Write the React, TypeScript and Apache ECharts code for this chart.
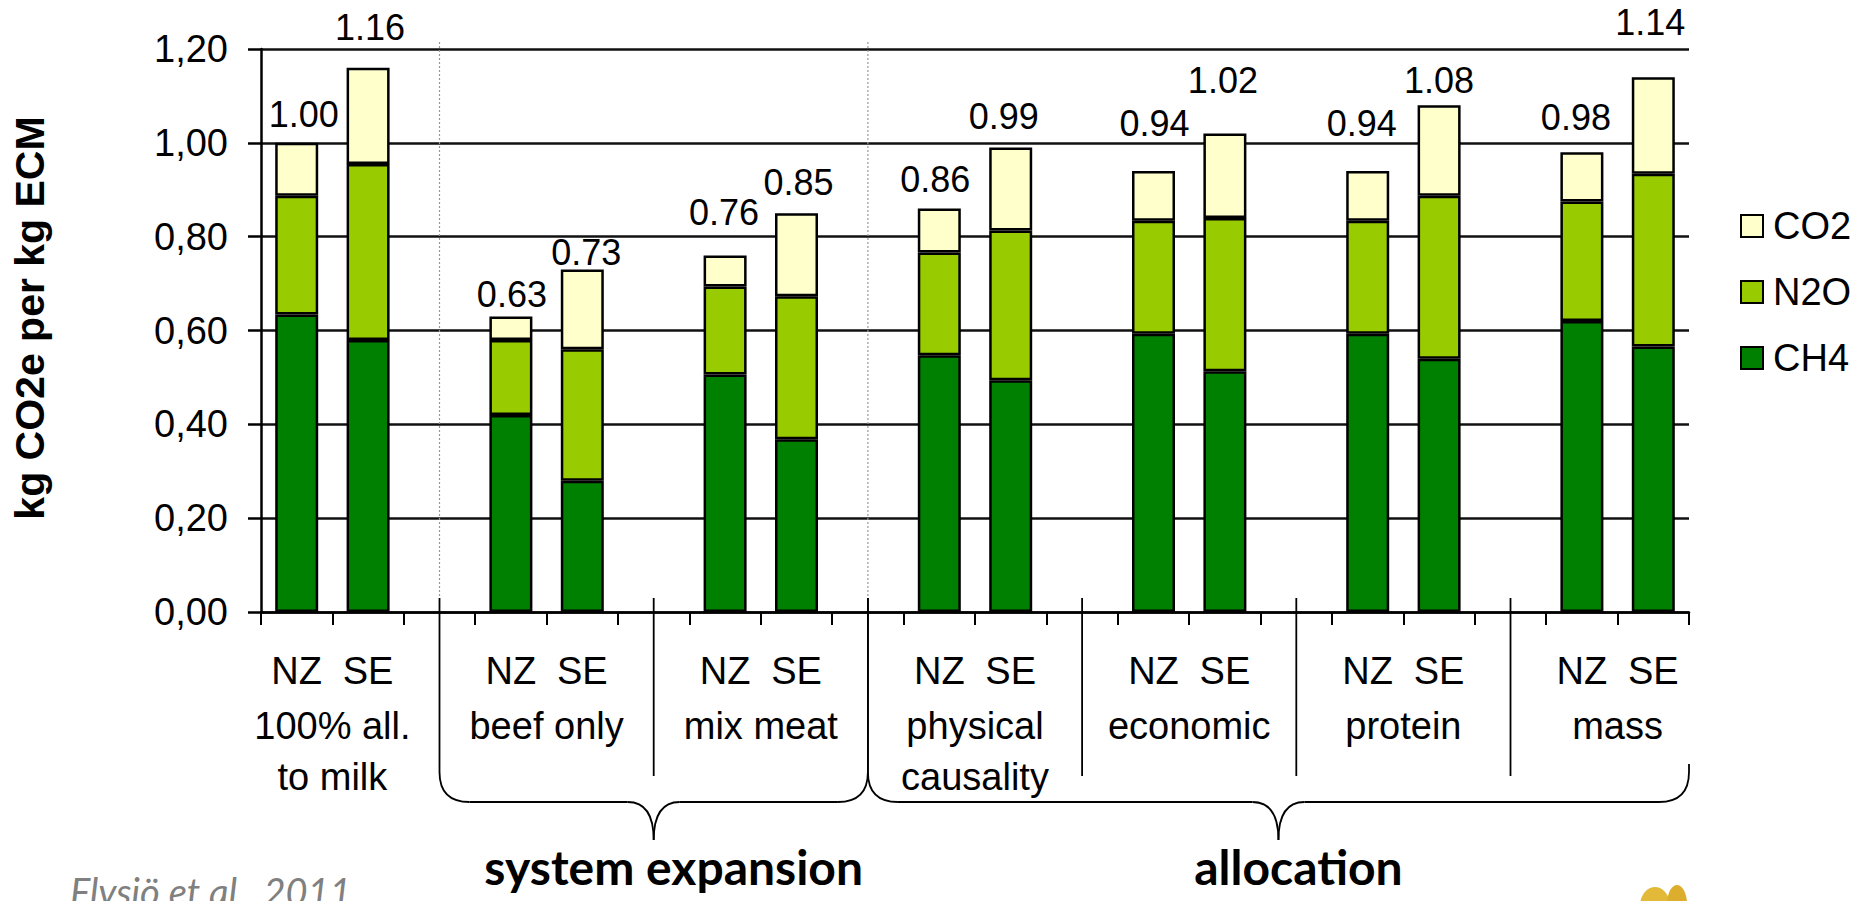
import React, { useEffect, useRef } from 'react';
import * as echarts from 'echarts';

// Carbon footprint of milk, NZ vs SE, per method of handling co-products
const groups = [
  '100% all.\nto milk',
  'beef only',
  'mix meat',
  'physical\ncausality',
  'economic',
  'protein',
  'mass',
];
const countries = ['NZ', 'SE'];

// kg CO2e per kg ECM, one entry per bar: NZ, SE for each group in turn
const ch4 = [0.634, 0.58, 0.42, 0.28, 0.506, 0.368, 0.547, 0.494, 0.593, 0.513, 0.593, 0.54, 0.62, 0.566];
const n2o = [0.253, 0.375, 0.16, 0.28, 0.188, 0.305, 0.219, 0.319, 0.241, 0.327, 0.241, 0.347, 0.255, 0.368];
const co2 = [0.113, 0.205, 0.05, 0.17, 0.066, 0.177, 0.094, 0.177, 0.106, 0.18, 0.106, 0.193, 0.105, 0.206];

const yTicks = [0, 0.2, 0.4, 0.6, 0.8, 1.0, 1.2];

// brackets grouping the methods (group index ranges)
const brackets = [
  { text: 'system expansion', from: 1, to: 2 },
  { text: 'allocation', from: 3, to: 6 },
];
const citation = 'Flysjö et al., 2011';

const FONT = "'Liberation Sans', Arial, sans-serif";
const COLORS = { CH4: '#008000', N2O: '#99CC00', CO2: '#FFFFCC' };

// total label placement tweaks per bar: [dx, lift above bar top]
const labelNudge: [number, number][] = [
  [7, 10], [2, 22], [1, 4], [4, -1], [-1, 25], [2, 13], [-4, 11],
  [-7, 13], [1, 29], [-2, 35], [-6, 29], [0, 7], [-6, 17], [-3, 37],
];

// one slot per bar, plus an empty slot between groups
const slots: { bar: number | null; label: string }[] = [];
groups.forEach((_, gi) => {
  countries.forEach((c, ci) => slots.push({ bar: gi * countries.length + ci, label: c }));
  if (gi < groups.length - 1) slots.push({ bar: null, label: '' });
});
const gapSlots = slots.map((s, i) => (s.bar === null ? i : -1)).filter((i) => i >= 0);
// group names sit on the boundary between the NZ and SE slots
const boundaryLabels: string[] = Array.from({ length: slots.length + 1 }, () => '');
groups.forEach((g, gi) => {
  boundaryLabels[gi * 3 + 1] = g;
});

const totals = ch4.map((v, i) => v + n2o[i] + co2[i]);

const seriesData = (arr: number[]) => slots.map((s) => (s.bar === null ? '-' : arr[s.bar]));

export default function App() {
  const ref = useRef<HTMLDivElement>(null);

  useEffect(() => {
    document.body.style.margin = '0';
    if (!ref.current) return;
    const chart = echarts.init(ref.current, undefined, { renderer: 'svg' });

    const barStyle = (color: string) => ({ color, borderColor: '#000', borderWidth: 2.5 });

    const co2Data = slots.map((s) => {
      if (s.bar === null) return '-';
      const [dx, lift] = labelNudge[s.bar];
      return { value: co2[s.bar], label: { offset: [dx, -lift] } };
    });

    chart.setOption({
      animation: false,
      backgroundColor: '#fff',
      grid: { left: 261, right: 177, top: 49, bottom: 289, containLabel: false },
      legend: {
        orient: 'vertical',
        left: 1740,
        top: 207,
        padding: 0,
        itemWidth: 22,
        itemHeight: 22,
        itemGap: 28,
        icon: 'rect',
        data: ['CO2', 'N2O', 'CH4'],
        textStyle: { fontSize: 38, fontFamily: FONT, color: '#000', padding: [0, 0, 0, 5] },
      },
      xAxis: [
        {
          type: 'category',
          data: slots.map((s) => s.label),
          boundaryGap: true,
          axisLine: { show: true, lineStyle: { color: '#000', width: 2.5 } },
          axisTick: { show: true, interval: 0, length: 13, lineStyle: { color: '#000', width: 2 } },
          axisLabel: { interval: 0, fontSize: 38, fontFamily: FONT, color: '#000', margin: 40 },
          splitLine: { show: false },
        },
        {
          type: 'category',
          position: 'bottom',
          data: boundaryLabels,
          boundaryGap: false,
          axisLine: { show: false },
          axisTick: { show: false },
          axisLabel: {
            interval: 0,
            fontSize: 38,
            lineHeight: 51,
            fontFamily: FONT,
            color: '#000',
            margin: 88,
            align: 'center',
          },
          splitLine: { show: false },
        },
      ],
      yAxis: {
        type: 'value',
        min: yTicks[0],
        max: yTicks[yTicks.length - 1],
        interval: 0.2,
        axisLine: { show: true, lineStyle: { color: '#000', width: 2.5 } },
        axisTick: { show: true, length: 13, lineStyle: { color: '#000', width: 2.5 } },
        splitLine: { show: true, lineStyle: { color: '#111', width: 2.5 } },
        axisLabel: {
          fontSize: 38,
          fontFamily: FONT,
          color: '#000',
          margin: 33,
          formatter: (v: number) => v.toFixed(2).replace('.', ','),
        },
      },
      series: [
        {
          name: 'CH4',
          type: 'bar',
          stack: 'ghg',
          barWidth: 43,
          itemStyle: barStyle(COLORS.CH4),
          data: seriesData(ch4),
        },
        {
          name: 'N2O',
          type: 'bar',
          stack: 'ghg',
          barWidth: 43,
          itemStyle: barStyle(COLORS.N2O),
          data: seriesData(n2o),
        },
        {
          name: 'CO2',
          type: 'bar',
          stack: 'ghg',
          barWidth: 43,
          itemStyle: barStyle(COLORS.CO2),
          label: {
            show: true,
            position: 'top',
            distance: 0,
            fontSize: 36,
            fontFamily: FONT,
            color: '#000',
            formatter: (p: any) => {
              const s = slots[p.dataIndex];
              return s.bar === null ? '' : totals[s.bar].toFixed(2);
            },
          },
          data: co2Data,
        },
      ],
    });

    // decorations laid out from the axes
    const px = (i: number) => (chart.convertToPixel({ gridIndex: 0 }, [i, 0]) as number[])[0];
    const y0 = chart.convertToPixel({ yAxisIndex: 0 }, 0) as number;
    const yMax = chart.convertToPixel({ yAxisIndex: 0 }, yTicks[yTicks.length - 1]) as number;
    const half = (px(1) - px(0)) / 2;
    const rightEdge = px(slots.length - 1) + half;

    const lw = 1.8;
    const els: any[] = [];
    const line = (x1: number, y1: number, x2: number, y2: number, style: any = {}) =>
      els.push({ type: 'line', silent: true, shape: { x1, y1, x2, y2 }, style: { stroke: '#000', lineWidth: lw, ...style } });
    const curve = (x1: number, y1: number, cx: number, cy: number, x2: number, y2: number) =>
      els.push({
        type: 'bezierCurve',
        silent: true,
        shape: { x1, y1, x2, y2, cpx1: cx, cpy1: cy },
        style: { stroke: '#000', lineWidth: lw, fill: 'none' },
      });

    const sepTop = y0 - 14;
    const sepBottom = y0 + 164;
    const yH = y0 + 190;
    const tipY = y0 + 228;
    const r = 30;
    const tw = 26;

    const gapX = (gi: number) => px(gapSlots[gi]);
    const bracketStarts = new Set<number>();
    brackets.forEach((b) => {
      const xL = gapX(b.from - 1);
      const isLast = b.to === groups.length - 1;
      const xR = isLast ? rightEdge : gapX(b.to);
      bracketStarts.add(b.from - 1);
      if (!isLast) bracketStarts.add(b.to);
      const xm = (xL + xR) / 2;
      line(xL, sepTop, xL, yH - r);
      curve(xL, yH - r, xL, yH, xL + r, yH);
      line(xL + r, yH, xm - tw, yH);
      curve(xm - tw, yH, xm, yH, xm, tipY);
      curve(xm, tipY, xm, yH, xm + tw, yH);
      line(xm + tw, yH, xR - r, yH);
      curve(xR - r, yH, xR, yH, xR, yH - r);
      line(xR, yH - r, xR, isLast ? y0 + 152 : sepTop);
      els.push({
        type: 'text',
        silent: true,
        x: xm + 20,
        y: y0 + 254,
        style: {
          text: b.text,
          fontSize: 48,
          fontWeight: 'bold',
          fontFamily: 'Lato, sans-serif',
          fill: '#000',
          align: 'center',
          verticalAlign: 'middle',
          textAlign: 'center',
          textVerticalAlign: 'middle',
        },
      });
    });

    gapSlots.forEach((slot, gi) => {
      const x = px(slot);
      if (bracketStarts.has(gi)) {
        line(x, yMax - 7, x, sepTop, { stroke: '#999', lineWidth: 1.2, lineDash: [2, 2] });
      } else if (gi > 0) {
        line(x, sepTop, x, sepBottom);
      }
    });

    // axis title
    els.push({
      type: 'text',
      silent: true,
      x: 30,
      y: 318,
      rotation: Math.PI / 2,
      style: {
        text: 'kg CO2e per kg ECM',
        fontSize: 41,
        fontWeight: 'bold',
        fontFamily: FONT,
        fill: '#000',
        align: 'center',
        verticalAlign: 'middle',
        textAlign: 'center',
        textVerticalAlign: 'middle',
      },
    });

    // source note
    els.push({
      type: 'text',
      silent: true,
      x: 70,
      y: 891,
      style: {
        text: citation,
        fontSize: 38,
        fontStyle: 'italic',
        fontFamily: 'Lato, sans-serif',
        fill: '#808080',
        align: 'left',
        verticalAlign: 'middle',
        textAlign: 'left',
        textVerticalAlign: 'middle',
      },
    });

    // corner emblem
    els.push({ type: 'ellipse', silent: true, shape: { cx: 1655, cy: 906, rx: 15, ry: 19 }, style: { fill: '#E3B93A' } });
    els.push({ type: 'ellipse', silent: true, shape: { cx: 1677, cy: 904, rx: 10, ry: 19 }, style: { fill: '#DDAE2E' } });

    chart.setOption({ graphic: els });

    return () => chart.dispose();
  }, []);

  return <div ref={ref} style={{ width: 1866, height: 901, overflow: 'hidden' }} />;
}
